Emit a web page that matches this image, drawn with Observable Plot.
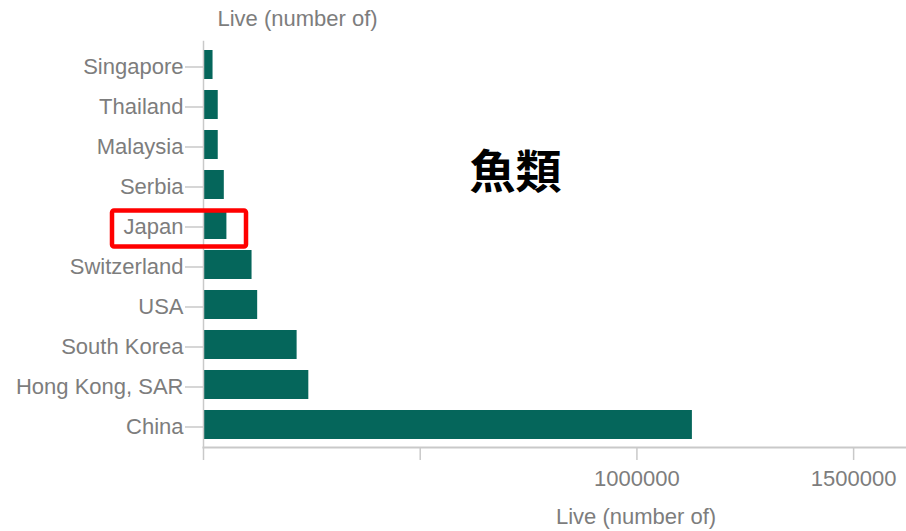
<!DOCTYPE html>
<html>
<head>
<meta charset="utf-8">
<script src="https://cdn.jsdelivr.net/npm/d3@7"></script>
<script src="https://cdn.jsdelivr.net/npm/@observablehq/plot@0.6"></script>
<style>
  html, body { margin: 0; padding: 0; background: #fff; }
  #chart { position: relative; width: 906px; height: 531px; }
</style>
</head>
<body>
<div id="chart"></div>
<script>
const countries = ["Singapore", "Thailand", "Malaysia", "Serbia", "Japan", "Switzerland", "USA", "South Korea", "Hong Kong, SAR", "China"];
const liveValues = [22000, 34000, 34000, 48000, 54000, 112000, 125000, 216000, 243000, 1128000];
const xTicks = [0, 500000, 1000000, 1500000];
const xTickLabels = ["", "", "1000000", "1500000"];
const axisTitle = "Live (number of)";
const annotationText = "魚類";
const highlighted = "Japan";

const data = countries.map((c, i) => ({country: c, value: liveValues[i]}));

const gray = "#7d7d7d";
const lineGray = "#c9c9c9";
const font = "'Liberation Sans', Arial, sans-serif";

const plot = Plot.plot({
  width: 906,
  height: 531,
  marginLeft: 203,
  marginRight: 0,
  marginTop: 41,
  marginBottom: 84,
  style: {fontFamily: font, fontSize: "22px", color: gray, background: "#fff"},
  x: {domain: [0, 1622000]},
  y: {domain: countries, paddingInner: 0.28, paddingOuter: 0.2},
  marks: [
    Plot.barX(data, {y: "country", x: "value", fill: "#05665b"}),
    Plot.frame({anchor: "left", stroke: lineGray, strokeWidth: 1.5}),
    Plot.frame({anchor: "bottom", stroke: lineGray, strokeWidth: 2}),
    Plot.axisY({tickSize: 18, tickPadding: 2, label: null, stroke: lineGray, strokeWidth: 1.5, fill: gray, dy: 2}),
    Plot.axisX({ticks: xTicks, tickFormat: (d) => xTickLabels[xTicks.indexOf(d)], tickSize: 13, tickPadding: 10, label: null, stroke: lineGray, strokeWidth: 1.5, fill: gray}),
    Plot.text([axisTitle], {frameAnchor: "bottom", dx: 81, dy: 76, fill: gray, fontSize: 22}),
    Plot.text([axisTitle], {frameAnchor: "top-left", textAnchor: "start", dx: 14, dy: -31, fill: gray, fontSize: 22}),
    Plot.text([annotationText], {frameAnchor: "top-left", textAnchor: "middle", dx: 312, dy: 114, fill: "#000", fontSize: 46, fontWeight: "bold", fontFamily: "'Noto Sans CJK JP', sans-serif"})
  ]
});

// highlight box around the chosen category, positioned from the y scale
const yScale = plot.scale("y");
const yc = yScale.apply(highlighted) + yScale.bandwidth / 2;
const svgNS = "http://www.w3.org/2000/svg";
const rect = document.createElementNS(svgNS, "rect");
rect.setAttribute("x", 112);
rect.setAttribute("y", yc - 14);
rect.setAttribute("width", 134);
rect.setAttribute("height", 36);
rect.setAttribute("rx", 2);
rect.setAttribute("fill", "none");
rect.setAttribute("stroke", "#ff0000");
rect.setAttribute("stroke-width", 4.5);
plot.appendChild(rect);

document.getElementById("chart").appendChild(plot);
</script>
</body>
</html>
